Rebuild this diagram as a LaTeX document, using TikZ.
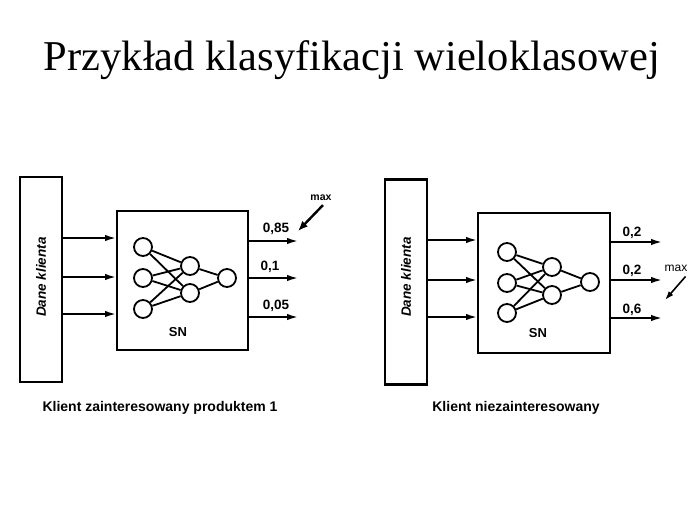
\documentclass[tikz,border=0pt]{standalone}
\usepackage{fontspec}
\setmainfont{Liberation Serif}
\setsansfont{Liberation Sans}
\usetikzlibrary{arrows.meta}
\tikzset{
  databar/.style={draw, line width=2.2pt, minimum width=42pt, minimum height=205pt, inner sep=0pt},
  snbox/.style={draw, line width=2pt, minimum width=131pt, minimum height=139pt, inner sep=0pt},
  neuron/.style={circle, draw, line width=1.8pt, minimum size=18pt, inner sep=0pt},
  syn/.style={line width=1.8pt},
  arr/.style={line width=1.8pt, -{Latex[length=11pt,width=6.5pt]}},
  maxarr/.style={line width=2.4pt, -{Latex[length=10pt,width=8pt]}},
  lbl/.style={font=\sffamily\bfseries\fontsize{13.5}{13.5}\selectfont, inner sep=0pt},
  captxt/.style={font=\sffamily\bfseries\fontsize{14}{14}\selectfont, inner sep=0pt},
  bartext/.style={font=\sffamily\bfseries\itshape\fontsize{13.5}{13.5}\selectfont, rotate=90, inner sep=0pt},
}
\begin{document}
\begin{tikzpicture}[x=1pt,y=-1pt]
\useasboundingbox (0,0) rectangle (700,525);
% title
\node[font=\fontsize{42.5}{42.5}\selectfont, anchor=base, inner sep=0pt] (title) at (352,70.5) {Przykład klasyfikacji wieloklasowej};

% ===== left diagram =====
\node[databar] (barL) at (41,279.5) {};
\node[bartext] (dkL) at (41,277) {Dane klienta};
\node[snbox] (snL) at (182.5,280.5) {};
\node[font=\sffamily\bfseries\fontsize{13}{13}\selectfont] (snlL) at (178,332) {SN};
\node[neuron] (iL1) at (143,247) {};
\node[neuron] (iL2) at (143,278) {};
\node[neuron] (iL3) at (143,309) {};
\node[neuron] (hL1) at (190,266) {};
\node[neuron] (hL2) at (190,293) {};
\node[neuron] (oL) at (227,278) {};
\foreach \i in {1,2,3}{\foreach \h in {1,2}{\draw[syn] (iL\i) -- (hL\h);}}
\draw[syn] (hL1) -- (oL);
\draw[syn] (hL2) -- (oL);
\foreach \y in {238,277,314}{\draw[arr] (barL.east |- 0,\y) -- (snL.west |- 0,\y);}
\coordinate (eL1) at (298,241);
\coordinate (eL2) at (298,278);
\coordinate (eL3) at (298,317);
\draw[arr] (snL.east |- eL1) -- (eL1);
\draw[arr] (snL.east |- eL2) -- (eL2);
\draw[arr] (snL.east |- eL3) -- (eL3);
\node[lbl] (vL1) at (276,229) {0,85};
\node[lbl] (vL2) at (270,267) {0,1};
\node[lbl] (vL3) at (276,306) {0,05};
\node[font=\sffamily\bfseries\fontsize{10.5}{10.5}\selectfont, inner sep=0pt] (maxL) at (321,198) {max};
\coordinate (mL) at (298,231);
\draw[maxarr] (maxL.south) ++(2,4) -- (mL);
\node[captxt] (capL) at (160,408) {Klient zainteresowany produktem 1};

% ===== right diagram =====
\node[databar] (barR) at (406,282) {};
\node[bartext] (dkR) at (406,277) {Dane klienta};
\node[snbox, minimum width=132pt, minimum height=140pt] (snR) at (544,283) {};
\node[font=\sffamily\bfseries\fontsize{13}{13}\selectfont] (snlR) at (538,333) {SN};
\node[neuron] (iR1) at (507,252) {};
\node[neuron] (iR2) at (507,283) {};
\node[neuron] (iR3) at (507,313) {};
\node[neuron] (hR1) at (552,267) {};
\node[neuron] (hR2) at (552,295) {};
\node[neuron] (oR) at (590,282) {};
\foreach \i in {1,2,3}{\foreach \h in {1,2}{\draw[syn] (iR\i) -- (hR\h);}}
\draw[syn] (hR1) -- (oR);
\draw[syn] (hR2) -- (oR);
\foreach \y in {240,280,317}{\draw[arr] (barR.east |- 0,\y) -- (snR.west |- 0,\y);}
\coordinate (eR1) at (662,242);
\coordinate (eR2) at (662,280);
\coordinate (eR3) at (662,318);
\draw[arr] (snR.east |- eR1) -- (eR1);
\draw[arr] (snR.east |- eR2) -- (eR2);
\draw[arr] (snR.east |- eR3) -- (eR3);
\node[lbl] (vR1) at (632,233) {0,2};
\node[lbl] (vR2) at (632,271) {0,2};
\node[lbl] (vR3) at (632,310) {0,6};
\node[font=\sffamily\fontsize{12}{12}\selectfont, inner sep=0pt] (maxR) at (676,268) {max};
\coordinate (mR) at (665,300);
\draw[line width=1.6pt, -{Latex[length=9pt,width=6pt]}] (maxR.south east) ++(-2,5) -- (mR);
\node[captxt] (capR) at (516,408) {Klient niezainteresowany};
\end{tikzpicture}
\end{document}
